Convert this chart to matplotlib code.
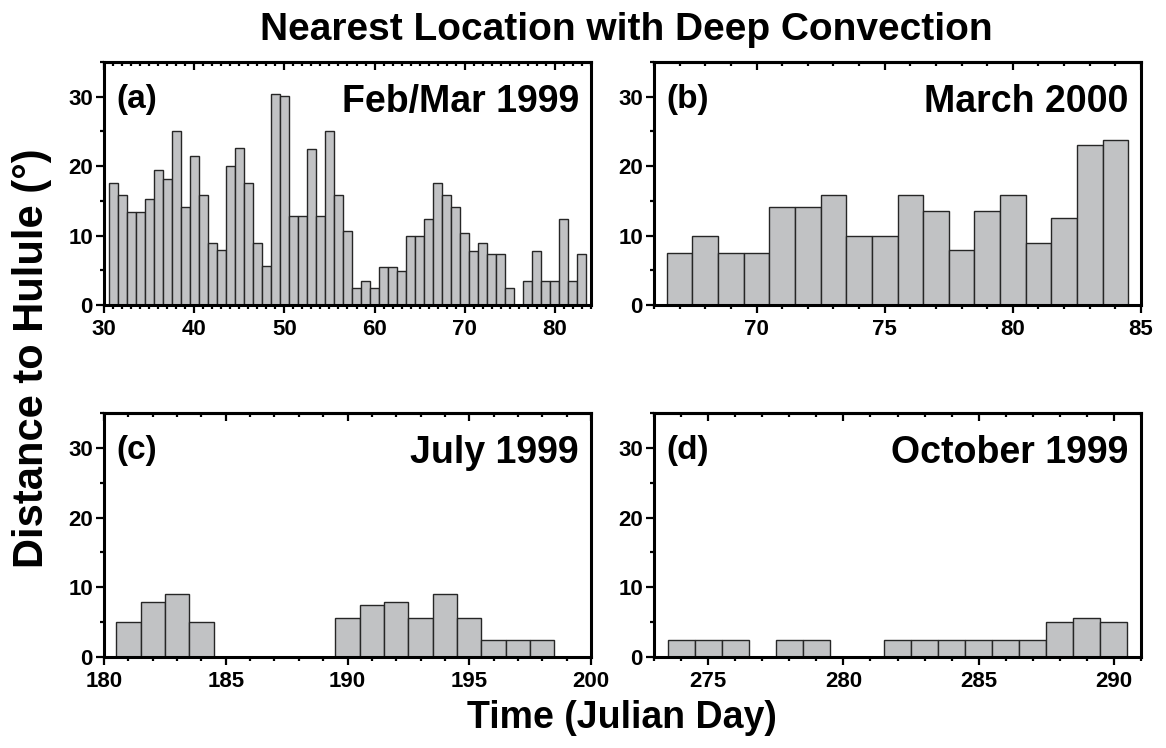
import numpy as np
import matplotlib
matplotlib.use("Agg")
import matplotlib.pyplot as plt
from matplotlib.ticker import MultipleLocator

plt.rcParams['font.family'] = ['Liberation Sans', 'DejaVu Sans']
plt.rcParams['font.weight'] = 'bold'

# Feb/Mar 1999 (one bar per Julian day, 31..83; day 76 has no value)
febmar_days = list(range(31, 84))
febmar_dist = [17.6, 15.8, 13.4, 13.4, 15.2, 19.5, 18.2, 25.0, 14.1, 21.4,
               15.8, 9.0, 7.9, 20.0, 22.6, 17.5, 9.0, 5.6, 30.4, 30.1,
               12.8, 12.8, 22.4, 12.8, 25.0, 15.9, 10.6, 2.5, 3.5, 2.5,
               5.5, 5.5, 4.9, 9.9, 9.9, 12.4, 17.6, 15.9, 14.1, 10.3,
               7.8, 9.0, 7.4, 7.4, 2.5, None, 3.5, 7.8, 3.5, 3.5,
               12.4, 3.5, 7.4]

# March 2000
mar2000_days = list(range(67, 85))
mar2000_dist = [7.5, 10.0, 7.5, 7.5, 14.1, 14.1, 15.9, 10.0, 10.0, 15.9,
                13.5, 7.9, 13.5, 15.9, 9.0, 12.5, 23.0, 23.7]

# July 1999
jul_days = [181, 182, 183, 184, 190, 191, 192, 193, 194, 195, 196, 197, 198]
jul_dist = [5.0, 7.9, 9.0, 5.0, 5.6, 7.5, 7.9, 5.6, 9.0, 5.6, 2.5, 2.5, 2.5]

# October 1999
oct_days = [274, 275, 276, 278, 279, 282, 283, 284, 285, 286, 287, 288, 289, 290]
oct_dist = [2.5, 2.5, 2.5, 2.5, 2.5, 2.5, 2.5, 2.5, 2.5, 2.5, 2.5, 5.0, 5.6, 5.0]

panels = [
    dict(days=febmar_days, dist=febmar_dist, xlim=(30, 84), major=10,
         tag='(a)', name='Feb/Mar 1999'),
    dict(days=mar2000_days, dist=mar2000_dist, xlim=(66, 85), major=5,
         tag='(b)', name='March 2000'),
    dict(days=jul_days, dist=jul_dist, xlim=(180, 200), major=5,
         tag='(c)', name='July 1999'),
    dict(days=oct_days, dist=oct_dist, xlim=(273, 291), major=5,
         tag='(d)', name='October 1999'),
]

W, H = 1166, 748
fig = plt.figure(figsize=(W / 100, H / 100), dpi=100)

# pixel boxes: (left, right, top, bottom)
boxes = [(104, 591, 62, 305), (654, 1141, 62, 305),
         (104, 591, 413, 657), (654, 1141, 413, 657)]

BAR_FILL = '#c1c2c4'
BAR_EDGE = '#262626'

for p, (l, r, t, b) in zip(panels, boxes):
    ax = fig.add_axes([l / W, 1 - b / H, (r - l) / W, (b - t) / H])
    days = [d for d, v in zip(p['days'], p['dist']) if v is not None]
    vals = [v for v in p['dist'] if v is not None]
    ax.bar(days, vals, width=1.0, color=BAR_FILL, edgecolor=BAR_EDGE,
           linewidth=1.0, zorder=2)
    ax.set_xlim(*p['xlim'])
    ax.set_ylim(0, 35)
    ax.xaxis.set_major_locator(MultipleLocator(p['major']))
    ax.xaxis.set_minor_locator(MultipleLocator(1))
    ax.yaxis.set_major_locator(MultipleLocator(10))
    ax.yaxis.set_minor_locator(MultipleLocator(5))
    ax.tick_params(axis='both', which='major', direction='out', length=6,
                   width=1.6, labelsize=16)
    ax.tick_params(axis='x', which='major', pad=4)
    ax.tick_params(axis='y', which='major', pad=2)
    ax.tick_params(axis='both', which='minor', direction='out', length=3,
                   width=1.6)
    for lab in ax.get_xticklabels() + ax.get_yticklabels():
        lab.set_fontweight('bold')
    for s in ax.spines.values():
        s.set_linewidth(2.2)
    # mirrored ticks on the top edge, pointing inward
    top = ax.secondary_xaxis('top')
    top.xaxis.set_major_locator(MultipleLocator(p['major']))
    top.xaxis.set_minor_locator(MultipleLocator(1))
    top.tick_params(which='major', direction='in', length=6, width=1.6,
                    labeltop=False)
    top.tick_params(which='minor', direction='in', length=3, width=1.6)
    top.spines['top'].set_linewidth(2.2)
    ax.text(0.025, 0.91, p['tag'], transform=ax.transAxes, fontsize=24,
            fontweight='bold', ha='left', va='top')
    ax.text(0.975, 0.91, p['name'], transform=ax.transAxes, fontsize=27,
            fontweight='bold', ha='right', va='top')

fig.text(626 / W, 1 - 30 / H, 'Nearest Location with Deep Convection',
         fontsize=28, fontweight='bold', ha='center', va='center')
fig.text(622 / W, 1 - 718 / H, 'Time (Julian Day)', fontsize=27,
         fontweight='bold', ha='center', va='center')
fig.text(32 / W, 1 - 358 / H, 'Distance to Hulule (°)', fontsize=30,
         fontweight='bold', ha='center', va='center', rotation=90)

fig.savefig('out.png', dpi=100)
